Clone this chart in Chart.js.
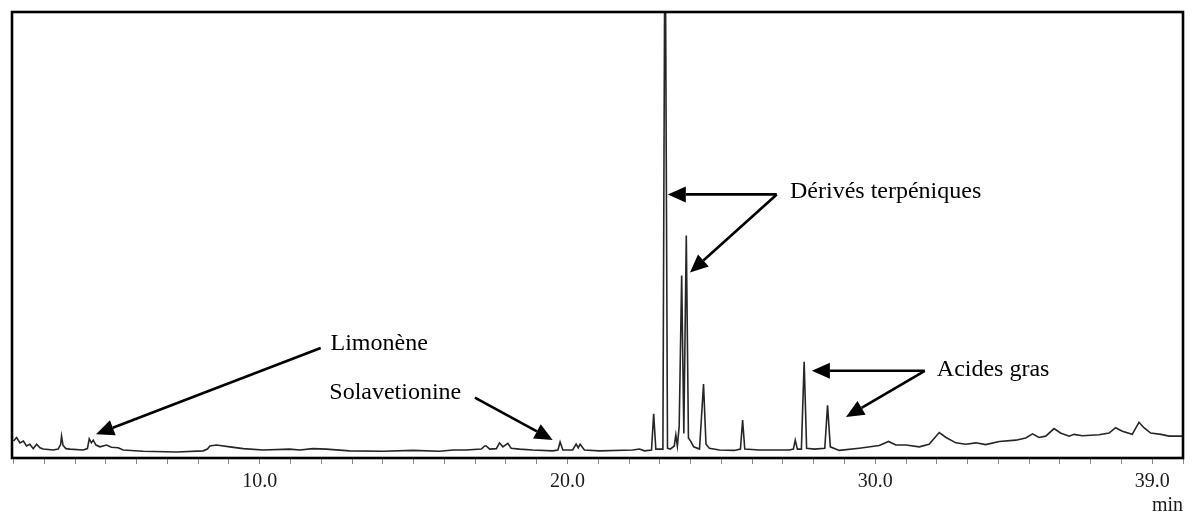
<!DOCTYPE html>
<html lang="fr">
<head>
<meta charset="utf-8">
<title>Chromatogramme</title>
<script src="https://cdn.jsdelivr.net/npm/chart.js@4/dist/chart.umd.min.js"></script>
<style>
  html, body { margin: 0; padding: 0; background: #fff; }
  #wrap { width: 1193px; height: 516px; position: relative; }
</style>
</head>
<body>
<div id="wrap"><canvas id="chrom"></canvas></div>
<script>
// Retention time (min) and detector response (% of full scale) along the trace
const retentionTimes = [
  2.00, 2.05, 2.10, 2.21, 2.32, 2.42, 2.53, 2.64, 2.75, 2.86, 2.96, 3.29, 3.45, 3.53, 3.56, 3.61, 3.70, 3.83,
  4.26, 4.40, 4.46, 4.53, 4.59, 4.68, 4.81, 5.02, 5.18, 5.40, 5.56, 6.21, 7.30, 8.16, 8.30, 8.38, 8.59, 9.03,
  9.46, 10.11, 10.97, 11.30, 11.73, 12.16, 12.92, 14.00, 14.98, 15.84, 16.28, 16.71, 17.20, 17.31, 17.36, 17.47,
  17.69, 17.79, 17.90, 18.06, 18.17, 18.44, 18.87, 19.52, 19.69, 19.76, 19.85, 20.17, 20.28, 20.35, 20.41, 20.55,
  21.04, 22.12, 22.34, 22.50, 22.73, 22.80, 22.87, 22.99, 23.10, 23.17, 23.25, 23.34, 23.47, 23.52, 23.57, 23.63,
  23.71, 23.78, 23.86, 23.93, 24.00, 24.10, 24.29, 24.42, 24.50, 24.61, 24.94, 25.42, 25.62, 25.69, 25.76, 26.23,
  26.88, 27.21, 27.34, 27.40, 27.47, 27.60, 27.69, 27.77, 28.02, 28.36, 28.45, 28.54, 28.83, 29.48, 30.13, 30.43,
  30.67, 31.00, 31.43, 31.75, 32.08, 32.30, 32.62, 32.94, 33.27, 33.59, 34.03, 34.57, 34.89, 35.11, 35.32, 35.54,
  35.81, 36.02, 36.30, 36.46, 36.73, 37.27, 37.60, 37.81, 38.03, 38.35, 38.57, 38.73, 38.95, 39.28, 39.55, 40.00
];
const detectorResponse = [
  3.8, 4.2, 4.6, 3.4, 3.8, 2.7, 3.1, 2.1, 3.1, 2.3, 2.0, 1.8, 2.0, 3.0, 4.9, 2.8, 2.1, 2.0,
  1.8, 2.1, 4.3, 3.4, 4.0, 2.9, 2.5, 2.9, 2.4, 2.3, 1.8, 1.5, 1.35, 1.6, 2.0, 2.7, 2.9, 2.5,
  2.1, 1.8, 2.0, 1.8, 2.1, 2.0, 1.6, 1.5, 1.7, 1.5, 1.8, 1.8, 2.0, 2.7, 2.7, 2.0,
  2.1, 3.4, 2.5, 3.3, 2.2, 2.0, 1.8, 1.6, 1.8, 3.6, 1.8, 1.8, 3.1, 2.3, 3.1, 1.8,
  1.6, 1.8, 2.0, 1.6, 1.8, 9.9, 2.0, 2.0, 2.0, 130, 2.2, 2.0, 2.7, 5.2, 2.7, 7.2,
  40.9, 5.5, 49.9, 4.5, 3.8, 2.5, 2.0, 16.6, 3.1, 2.2, 1.8, 1.7, 2.0, 8.5, 2.0, 1.8,
  1.8, 1.8, 2.0, 4.0, 2.0, 2.0, 21.6, 2.2, 2.0, 2.2, 11.8, 2.5, 1.7, 2.2, 2.8, 3.7,
  2.9, 2.9, 2.5, 3.1, 5.7, 4.6, 3.4, 3.1, 3.4, 3.0, 3.7, 4.0, 4.5, 5.4, 4.6, 4.9,
  6.6, 5.6, 4.9, 5.3, 5.0, 5.2, 5.6, 6.8, 6.0, 5.3, 8.0, 6.8, 5.6, 5.3, 4.9, 4.9
];

// Labelled positions on the time axis
const labelledMinutes = [10, 20, 30, 39];
const axisUnit = 'min';

// Peak assignments: text anchor and arrows, in (time, response) units
const peakNotes = [
  { text: 'Limonène', at: [12.30, 24.2], arrows: [[[11.98, 24.65], [4.68, 5.33]]] },
  { text: 'Solavetionine', at: [12.26, 13.2], arrows: [[[16.99, 13.55], [19.52, 4.04]]] },
  { text: 'Dérivés terpéniques', at: [27.23, 58.4],
    arrows: [[[26.80, 59.1], [23.26, 59.1]], [[26.80, 59.1], [23.98, 41.6]]] },
  { text: 'Acides gras', at: [32.0, 18.4],
    arrows: [[[31.61, 19.55], [27.94, 19.55]], [[31.61, 19.55], [29.05, 9.2]]] }
];

const SERIF = '"Liberation Serif", "Times New Roman", serif';

// Heavy frame around the plotting area, plus the time unit under the last label
const framePlugin = {
  id: 'frame',
  afterDraw(chart) {
    const { ctx, chartArea: a } = chart;
    ctx.save();
    ctx.strokeStyle = '#000';
    ctx.lineWidth = 2.6;
    ctx.strokeRect(a.left, a.top, a.right - a.left, a.bottom - a.top);
    ctx.fillStyle = '#1a1a1a';
    ctx.font = '20px ' + SERIF;
    ctx.textAlign = 'right';
    ctx.textBaseline = 'middle';
    ctx.fillText(axisUnit, a.right, a.bottom + 48);
    ctx.restore();
  }
};

// Peak names with arrows pointing at the peaks
const notesPlugin = {
  id: 'peakNotes',
  afterDraw(chart) {
    const { ctx } = chart;
    const xs = chart.scales.x, ys = chart.scales.y;
    const px = p => [xs.getPixelForValue(p[0]), ys.getPixelForValue(p[1])];
    ctx.save();
    ctx.fillStyle = '#000';
    ctx.strokeStyle = '#000';
    ctx.font = '24px ' + SERIF;
    ctx.textBaseline = 'alphabetic';
    ctx.textAlign = 'left';
    peakNotes.forEach(n => {
      const [tx, ty] = px(n.at);
      ctx.fillText(n.text, tx, ty);
      n.arrows.forEach(([from, to]) => {
        const [x0, y0] = px(from), [x1, y1] = px(to);
        const ang = Math.atan2(y1 - y0, x1 - x0);
        const headLen = 18, headHalf = 8;
        const bx = x1 - headLen * Math.cos(ang), by = y1 - headLen * Math.sin(ang);
        ctx.lineWidth = 2.6;
        ctx.beginPath();
        ctx.moveTo(x0, y0);
        ctx.lineTo(bx, by);
        ctx.stroke();
        ctx.beginPath();
        ctx.moveTo(x1, y1);
        ctx.lineTo(bx + headHalf * Math.sin(ang), by - headHalf * Math.cos(ang));
        ctx.lineTo(bx - headHalf * Math.sin(ang), by + headHalf * Math.cos(ang));
        ctx.closePath();
        ctx.fill();
      });
    });
    ctx.restore();
  }
};

const points = retentionTimes.map((t, i) => ({ x: t, y: detectorResponse[i] }));

new Chart(document.getElementById('chrom'), {
  type: 'line',
  data: {
    datasets: [{
      data: points,
      borderColor: '#262626',
      borderWidth: 1.6,
      pointRadius: 0,
      tension: 0,
      fill: false
    }]
  },
  options: {
    responsive: true,
    maintainAspectRatio: false,
    animation: false,
    events: [],
    layout: { padding: { left: 12, top: 12, right: 10, bottom: 17 } },
    plugins: { legend: { display: false }, tooltip: { enabled: false } },
    scales: {
      x: {
        type: 'linear',
        min: 1.95,
        max: 40,
        afterBuildTicks(axis) {
          const minutes = [];
          for (let m = 2; m <= 40; m++) minutes.push({ value: m });
          axis.ticks = minutes;
        },
        ticks: {
          autoSkip: false,
          maxRotation: 0,
          padding: 6.5,
          color: '#1a1a1a',
          font: { family: SERIF, size: 20, lineHeight: 1.1 },
          callback: v => labelledMinutes.includes(v) ? v.toFixed(1) : ''
        },
        grid: { drawOnChartArea: false, drawTicks: true, tickLength: 6, color: '#888', lineWidth: 1 },
        border: { display: false },
        title: { display: false }
      },
      y: { display: false, min: 0, max: 100 }
    }
  },
  plugins: [framePlugin, notesPlugin]
});
</script>
</body>
</html>
